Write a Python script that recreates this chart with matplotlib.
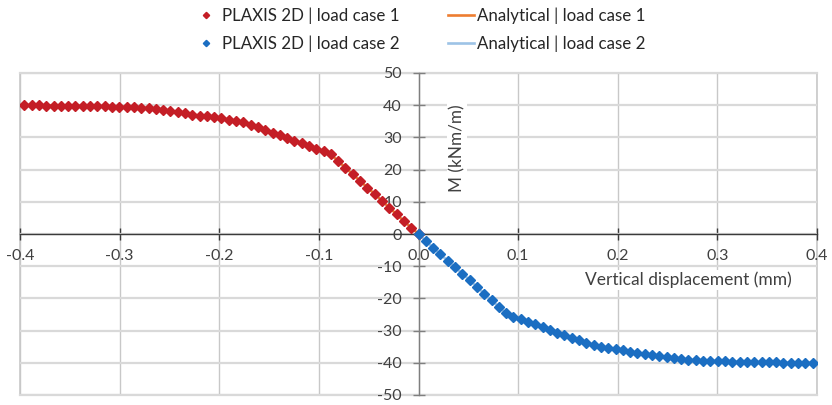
import matplotlib

matplotlib.use("Agg")
import matplotlib.pyplot as plt
from matplotlib.lines import Line2D

plt.rcParams["font.family"] = ["Lato", "DejaVu Sans"]

# load case 1: negative displacement, positive moment
disp_case1 = [0.0, -0.0073, -0.0147, -0.022, -0.0293, -0.0366, -0.044, -0.0513,
              -0.0586, -0.0659, -0.0733, -0.0806, -0.0879, -0.0952, -0.1026,
              -0.1099, -0.1172, -0.1245, -0.1319, -0.1392, -0.1465, -0.1538,
              -0.1612, -0.1685, -0.1758, -0.1831, -0.1905, -0.1978, -0.2051,
              -0.2124, -0.2198, -0.2271, -0.2344, -0.2417, -0.2491, -0.2564,
              -0.2637, -0.271, -0.2784, -0.2857, -0.293, -0.3003, -0.3077,
              -0.315, -0.3223, -0.3296, -0.337, -0.3443, -0.3516, -0.3589,
              -0.3663, -0.3736, -0.3809, -0.3882, -0.3956]
moment_case1 = [0.0, 2.0, 4.0, 6.1, 8.2, 10.3, 12.4, 14.4, 16.5, 18.5, 20.6,
                22.6, 24.7, 25.8, 26.4, 27.3, 28.2, 29.0, 29.9, 30.7, 31.5,
                32.3, 33.1, 34.0, 34.7, 35.2, 35.5, 35.9, 36.2, 36.5, 36.8,
                37.1, 37.45, 37.75, 38.1, 38.5, 38.9, 39.1, 39.2, 39.3, 39.4,
                39.5, 39.5, 39.6, 39.6, 39.7, 39.7, 39.8, 39.8, 39.9, 39.9,
                39.9, 40.0, 40.0, 40.0]

# load case 2: positive displacement, negative moment
disp_case2 = [0.0, 0.0073, 0.0147, 0.022, 0.0293, 0.0366, 0.044, 0.0513,
              0.0586, 0.0659, 0.0733, 0.0806, 0.0879, 0.0952, 0.1026, 0.1099,
              0.1172, 0.1245, 0.1319, 0.1392, 0.1465, 0.1538, 0.1612, 0.1685,
              0.1758, 0.1831, 0.1905, 0.1978, 0.2051, 0.2124, 0.2198, 0.2271,
              0.2344, 0.2417, 0.2491, 0.2564, 0.2637, 0.271, 0.2784, 0.2857,
              0.293, 0.3003, 0.3077, 0.315, 0.3223, 0.3296, 0.337, 0.3443,
              0.3516, 0.3589, 0.3663, 0.3736, 0.3809, 0.3882, 0.3956]
moment_case2 = [0.0, -2.2, -4.2, -6.3, -8.3, -10.3, -12.3, -14.3, -16.4, -18.5,
                -20.6, -22.6, -24.6, -25.8, -26.5, -27.2, -28.0, -28.8, -29.8,
                -30.6, -31.4, -32.2, -33.0, -33.8, -34.6, -35.2, -35.5, -35.8,
                -36.1, -36.6, -36.9, -37.2, -37.5, -37.8, -38.2, -38.45, -38.85,
                -39.1, -39.25, -39.35, -39.4, -39.45, -39.5, -39.6, -39.65,
                -39.7, -39.8, -39.85, -39.9, -39.9, -39.95, -40.0, -40.0, -40.0,
                -40.0]

x_ticks = [-0.4, -0.3, -0.2, -0.1, 0.0, 0.1, 0.2, 0.3, 0.4]
y_ticks = [-50, -40, -30, -20, -10, 0, 10, 20, 30, 40, 50]

RED = "#C41E26"
BLUE = "#1B6EC2"
ORANGE = "#ED7D31"
LIGHTBLUE = "#9DC3E6"
TXT = "#404040"

fig = plt.figure(figsize=(8.32, 4.05), dpi=100)
ax = fig.add_axes([20 / 832, 1 - 395 / 405, 797 / 832, 322 / 405])

ax.plot(disp_case1, moment_case1, color=ORANGE, lw=1.9, zorder=2)
ax.plot(disp_case2, moment_case2, color=LIGHTBLUE, lw=1.9, zorder=2)
ax.plot(disp_case1, moment_case1, ls="none", marker="D", ms=4.8,
        color=RED, zorder=3)
ax.plot(disp_case2, moment_case2, ls="none", marker="D", ms=4.8,
        color=BLUE, zorder=3)

ax.set_xlim(-0.4, 0.4)
ax.set_ylim(-50, 50)
ax.set_xticks(x_ticks)
ax.set_xticklabels([f"{t:.1f}" for t in x_ticks])
ax.set_yticks(y_ticks)
ax.set_yticklabels([str(t) for t in y_ticks])

# axes cross at the origin, Excel style
for side in ("top", "right"):
    ax.spines[side].set_visible(False)
ax.spines["left"].set_position(("data", 0))
ax.spines["bottom"].set_position(("data", 0))
ax.spines["left"].set_color("#7F7F7F")
ax.spines["bottom"].set_color("#3A3A3A")
for side in ("left", "bottom"):
    ax.spines[side].set_linewidth(1.0)
ax.tick_params(direction="inout", length=9, width=1.0,
               labelsize=11.5, labelcolor=TXT)
ax.tick_params(axis="x", pad=6, color="#3A3A3A")
ax.tick_params(axis="y", pad=7.5, color="#7F7F7F")

ax.grid(axis="y", color="#D9D9D9", lw=1.6, zorder=0)
ax.grid(axis="x", color="#C8C8C8", lw=1.0, zorder=0)
ax.set_axisbelow(True)

# bounding gridlines at the plot edges
for x in (-0.4, 0.4):
    ax.axvline(x, color="#C8C8C8", lw=1.2, zorder=0, clip_on=False)
for y in (-50, 50):
    ax.axhline(y, color="#D9D9D9", lw=1.6, zorder=0, clip_on=False)

ax.text(0.039, 26.7, "M (kNm/m)", rotation=90, ha="center", va="center",
        fontsize=12.3, color=TXT, zorder=4,
        bbox=dict(facecolor="white", edgecolor="none", pad=1.5))
ax.text(0.271, -14.3, "Vertical displacement (mm)", ha="center", va="center",
        fontsize=12.5, color=TXT, zorder=4,
        bbox=dict(facecolor="white", edgecolor="none", pad=1.5))

handles = [
    Line2D([], [], ls="none", marker="D", ms=3.2, color=RED),
    Line2D([], [], ls="none", marker="D", ms=3.2, color=BLUE),
    Line2D([], [], color=ORANGE, lw=1.9),
    Line2D([], [], color=LIGHTBLUE, lw=1.9),
]
labels = ["PLAXIS 2D | load case 1", "PLAXIS 2D | load case 2",
          "Analytical | load case 1", "Analytical | load case 2"]
fig.legend(handles, labels, ncol=2, loc="upper center",
           bbox_to_anchor=(0.504, 1.02), frameon=False, fontsize=12.2,
           handlelength=1.5, handletextpad=0.2, columnspacing=2.9,
           labelspacing=0.72, labelcolor="#262626")

fig.savefig("out.png", dpi=100)
